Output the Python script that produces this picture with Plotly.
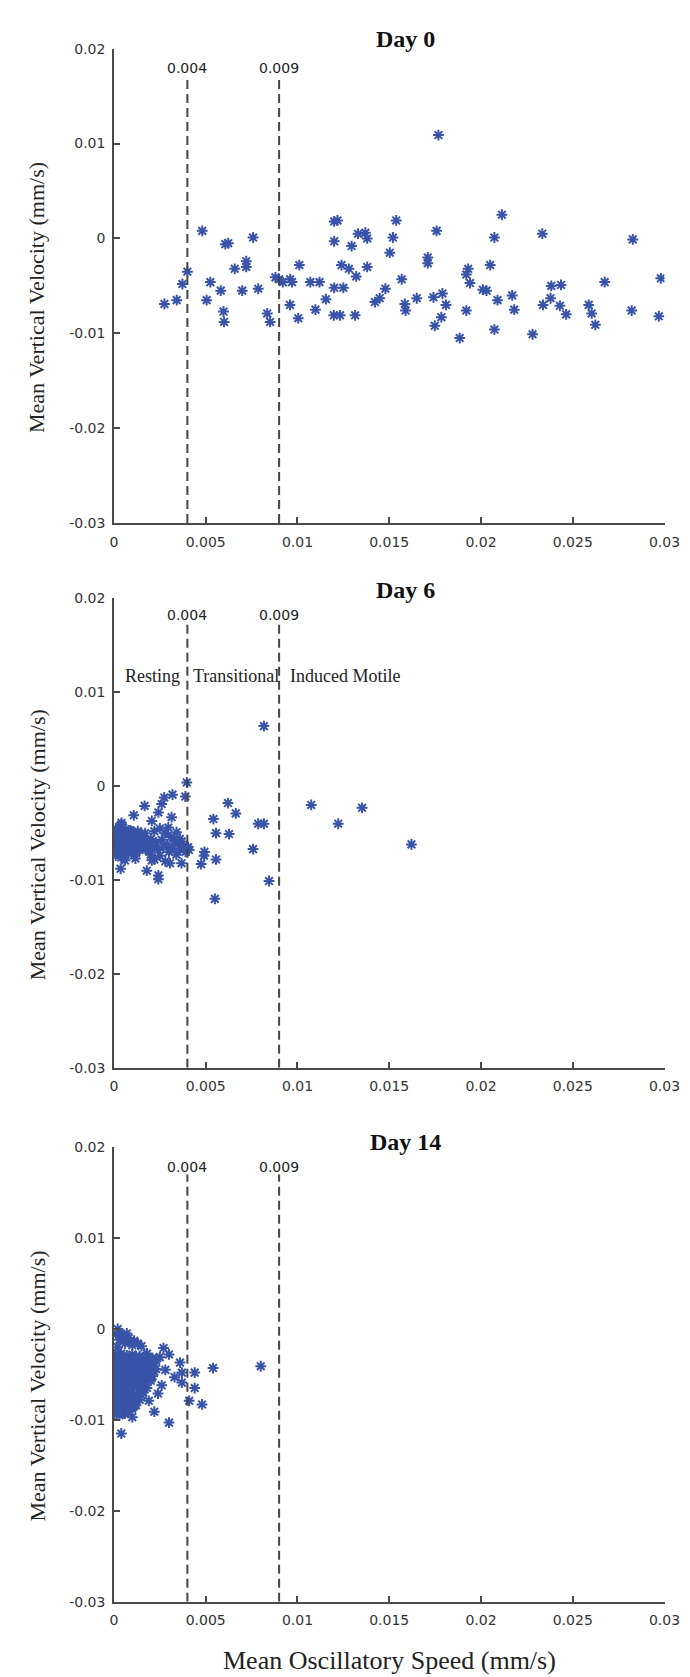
import plotly.graph_objects as go

# ---------------- data ----------------
thresholds = [0.004, 0.009]
threshold_labels = ["0.004", "0.009"]
panel_titles = ["Day 0", "Day 6", "Day 14"]
region_labels = ["Resting", "Transitional", "Induced Motile"]
region_label_x = [0.0005, 0.0042, 0.0095]
x_tickvals = [0, 0.005, 0.01, 0.015, 0.02, 0.025, 0.03]
x_ticktext = ["0", "0.005", "0.01", "0.015", "0.02", "0.025", "0.03"]
y_tickvals = [0.02, 0.01, 0, -0.01, -0.02, -0.03]
y_ticktext = ["0.02", "0.01", "0", "-0.01", "-0.02", "-0.03"]
x_title = "Mean Oscillatory Speed (mm/s)"
y_title = "Mean Vertical Velocity (mm/s)"

day0_x = [0.01768, 0.00481, 0.00607, 0.00623, 0.00758, 0.00721, 0.00721, 0.00658, 0.00525, 0.00373,
          0.0040, 0.00582, 0.00699, 0.00786, 0.0088, 0.0090, 0.0092, 0.0096, 0.0097, 0.0101,
          0.0107, 0.0112, 0.0120, 0.01218, 0.0120, 0.01295, 0.0133, 0.0137, 0.0138, 0.0124,
          0.0128, 0.0132, 0.0138, 0.0120, 0.0125, 0.01503, 0.0152, 0.01538, 0.01568, 0.01479,
          0.0171, 0.0171, 0.01758, 0.0179, 0.02114, 0.02073, 0.0193, 0.0192, 0.0194, 0.0205,
          0.0201, 0.0203, 0.0217, 0.02334, 0.02383, 0.02436, 0.02674, 0.02827, 0.0298,
          0.00275, 0.00342, 0.00505, 0.00597, 0.0060, 0.00835, 0.00851, 0.00959, 0.01004, 0.01098,
          0.01155, 0.01198, 0.01232, 0.01314, 0.01422, 0.01448, 0.01585, 0.01589, 0.0165, 0.01741,
          0.01748, 0.01784, 0.01809, 0.01884, 0.0192, 0.02073, 0.0209, 0.02181, 0.02281, 0.02338,
          0.02379, 0.0243, 0.02464, 0.02587, 0.02603, 0.02623, 0.02821, 0.02969]
day0_y = [0.0109, 0.0008, -0.0006, -0.0005, 0.0001, -0.0024, -0.0030, -0.0032, -0.0046, -0.0048,
          -0.0035, -0.0055, -0.0055, -0.0053, -0.0041, -0.0043, -0.0046, -0.0043, -0.0046, -0.0028,
          -0.0046, -0.0046, 0.0018, 0.0019, -0.0003, -0.0008, 0.0005, 0.0006, 0.0000, -0.0028,
          -0.0032, -0.0040, -0.0030, -0.0052, -0.0052, -0.0015, 0.0001, 0.0019, -0.0043, -0.0053,
          -0.0020, -0.0026, 0.0008, -0.0058, 0.0025, 0.0001, -0.0032, -0.0038, -0.0047, -0.0028,
          -0.0054, -0.0055, -0.0060, 0.0005, -0.0050, -0.0049, -0.0046, -0.0001, -0.0042,
          -0.0069, -0.0065, -0.0065, -0.0077, -0.0088, -0.0079, -0.0088, -0.0070, -0.0084, -0.0075,
          -0.0064, -0.0081, -0.0081, -0.0081, -0.0067, -0.0063, -0.0069, -0.0076, -0.0063, -0.0062,
          -0.0092, -0.0083, -0.0070, -0.0105, -0.0076, -0.0096, -0.0065, -0.0075, -0.0101, -0.0070,
          -0.0063, -0.0071, -0.0080, -0.0070, -0.0079, -0.0091, -0.0076, -0.0082]

day6_x = [0.00817, 0.00397, 0.00389, 0.01075, 0.01352, 0.01222, 0.01621, 0.00621, 0.00664, 0.00542,
          0.00556, 0.00627, 0.00786, 0.00817, 0.00758, 0.00493, 0.00491, 0.00475, 0.00556, 0.00845,
          0.0055, 0.00409, 0.00404,
          0.00319, 0.00274, 0.0026, 0.00167, 0.00108, 0.00242, 0.00206, 0.00314, 0.00041, 0.00296,
          0.00341, 0.00359, 0.00036, 0.00179, 0.00242, 0.00242, 0.00117, 0.00206, 0.00305, 0.00368,
          0.0000, 0.0001, 0.0001, 0.0002, 0.0002, 0.0002, 0.0003, 0.0003, 0.0003, 0.0004,
          0.0004, 0.0004, 0.0004, 0.0005, 0.0005, 0.0006, 0.0006, 0.0006, 0.0007, 0.0007,
          0.0008, 0.0008, 0.0008, 0.0009, 0.0009, 0.0010, 0.0010, 0.0011, 0.0011, 0.0012,
          0.0012, 0.0013, 0.0013, 0.0014, 0.0014, 0.0015, 0.0015, 0.0016, 0.0017, 0.0017,
          0.0018, 0.0019, 0.0020, 0.0020, 0.0021, 0.0022, 0.0022, 0.0023, 0.0024, 0.0025,
          0.0025, 0.0026, 0.0027, 0.0028, 0.0028, 0.0029, 0.0030, 0.0031, 0.0032, 0.0033,
          0.0034, 0.0035, 0.0036, 0.0037, 0.0038, 0.0039, 0.0040,
          0.0000, 0.0000, 0.0001, 0.0001, 0.0002, 0.0003, 0.0003, 0.0004, 0.0005, 0.0005,
          0.0006, 0.0006, 0.0007, 0.0007, 0.0008, 0.0009, 0.0009, 0.0010, 0.0010, 0.0011,
          0.0012, 0.0012, 0.0013, 0.0014, 0.0015, 0.0016, 0.0016]
day6_y = [0.0064, 0.0004, -0.0011, -0.0020, -0.0023, -0.0040, -0.0062, -0.0018, -0.0029, -0.0035,
          -0.0050, -0.0051, -0.0040, -0.0040, -0.0067, -0.0070, -0.0074, -0.0083, -0.0078, -0.0101,
          -0.0120, -0.0068, -0.0065,
          -0.0009, -0.0012, -0.0019, -0.0021, -0.0031, -0.0028, -0.0037, -0.0033, -0.0039, -0.0044,
          -0.0049, -0.0056, -0.0088, -0.0090, -0.0095, -0.0099, -0.0077, -0.0079, -0.0082, -0.0082,
          -0.0060, -0.0055, -0.0066, -0.0050, -0.0062, -0.0072, -0.0045, -0.0058, -0.0069, -0.0041,
          -0.0053, -0.0064, -0.0076, -0.0048, -0.0060, -0.0056, -0.0068, -0.0079, -0.0050, -0.0063,
          -0.0047, -0.0058, -0.0072, -0.0054, -0.0066, -0.0049, -0.0061, -0.0057, -0.0070, -0.0052,
          -0.0064, -0.0048, -0.0060, -0.0055, -0.0068, -0.0051, -0.0062, -0.0058, -0.0066, -0.0050,
          -0.0061, -0.0069, -0.0056, -0.0073, -0.0064, -0.0048, -0.0078, -0.0060, -0.0068, -0.0045,
          -0.0074, -0.0057, -0.0065, -0.0050, -0.0080, -0.0062, -0.0070, -0.0054, -0.0066, -0.0058,
          -0.0073, -0.0061, -0.0067, -0.0059, -0.0064, -0.0070, -0.0066,
          -0.0052, -0.0068, -0.0045, -0.0074, -0.0057, -0.0050, -0.0064, -0.0059, -0.0044, -0.0071,
          -0.0051, -0.0062, -0.0057, -0.0069, -0.0053, -0.0047, -0.0061, -0.0055, -0.0067, -0.0050,
          -0.0058, -0.0071, -0.0054, -0.0062, -0.0057, -0.0053, -0.0065]

day14_x = [0.0002, 0.0003, 0.0005, 0.0008, 0.0011, 0.0013, 0.0003, 0.0006, 0.0009, 0.0002,
           0.0001, 0.0007, 0.0010, 0.0015,
           0.0001, 0.0004, 0.0007, 0.0010, 0.0014, 0.0018,
           0.0000, 0.0003, 0.0006, 0.0009, 0.0012, 0.0016, 0.0020, 0.0023,
           0.0001, 0.0004, 0.0008, 0.0011, 0.0014, 0.0017, 0.0021,
           0.0000, 0.0003, 0.0006, 0.0010, 0.0013, 0.0016, 0.0019, 0.0022,
           0.0001, 0.0005, 0.0008, 0.0011, 0.0015, 0.0018, 0.0021,
           0.0000, 0.0003, 0.0007, 0.0010, 0.0013, 0.0017, 0.0020,
           0.0001, 0.0004, 0.0008, 0.0011, 0.0014, 0.0018,
           0.0000, 0.0003, 0.0006, 0.0009, 0.0013, 0.0016,
           0.0001, 0.0004, 0.0007, 0.0011, 0.0014,
           0.0000, 0.0003, 0.0006, 0.0009, 0.0012,
           0.0001, 0.0004, 0.0007, 0.0010,
           0.0000, 0.0003, 0.0006,
           0.0000, 0.0005, 0.0012, 0.0016, 0.0021,
           0.0002, 0.0007, 0.0014, 0.0018, 0.0022,
           0.0002, 0.0006, 0.0012, 0.0020, 0.0023,
           0.0002, 0.0007, 0.0012, 0.0017, 0.0020,
           0.0002, 0.0006, 0.0013, 0.0016, 0.0020,
           0.0002, 0.0006, 0.0012, 0.0016,
           0.0002, 0.0006, 0.0010, 0.0015,
           0.0002, 0.0005, 0.0011, 0.0015,
           0.0002, 0.0006, 0.0009, 0.0012,
           0.0002, 0.0005, 0.0008, 0.0011,
           0.0002, 0.0005, 0.0008,
           0.0025, 0.0027, 0.0030, 0.0036, 0.0037, 0.0037, 0.0033, 0.0028, 0.0026, 0.0024,
           0.0019, 0.0022, 0.0030, 0.0004, 0.0010, 0.0044, 0.0054, 0.0080, 0.0044, 0.0041, 0.0048]
day14_y = [0.0000, -0.0004, -0.0008, -0.0010, -0.0013, -0.0016, -0.0012, -0.0016, -0.0014, -0.0020,
           -0.0006, -0.0005, -0.0018, -0.0019,
           -0.0028, -0.0027, -0.0029, -0.0028, -0.0030, -0.0027,
           -0.0034, -0.0035, -0.0033, -0.0034, -0.0036, -0.0034, -0.0033, -0.0035,
           -0.0040, -0.0041, -0.0039, -0.0040, -0.0042, -0.0040, -0.0041,
           -0.0046, -0.0047, -0.0045, -0.0046, -0.0048, -0.0046, -0.0045, -0.0047,
           -0.0052, -0.0051, -0.0053, -0.0052, -0.0051, -0.0053, -0.0052,
           -0.0058, -0.0059, -0.0057, -0.0058, -0.0060, -0.0058, -0.0057,
           -0.0064, -0.0063, -0.0065, -0.0064, -0.0063, -0.0065,
           -0.0070, -0.0071, -0.0069, -0.0070, -0.0072, -0.0070,
           -0.0076, -0.0075, -0.0077, -0.0076, -0.0078,
           -0.0082, -0.0083, -0.0081, -0.0082, -0.0084,
           -0.0088, -0.0089, -0.0087, -0.0088,
           -0.0094, -0.0095, -0.0093,
           -0.0031, -0.0032, -0.0030, -0.0031, -0.0032,
           -0.0037, -0.0038, -0.0036, -0.0037, -0.0038,
           -0.0043, -0.0044, -0.0042, -0.0043, -0.0044,
           -0.0049, -0.0050, -0.0048, -0.0049, -0.0050,
           -0.0055, -0.0056, -0.0054, -0.0055, -0.0056,
           -0.0061, -0.0062, -0.0060, -0.0061,
           -0.0067, -0.0068, -0.0066, -0.0067,
           -0.0073, -0.0074, -0.0072, -0.0073,
           -0.0079, -0.0080, -0.0078, -0.0079,
           -0.0085, -0.0086, -0.0084, -0.0085,
           -0.0091, -0.0092, -0.0090,
           -0.0031, -0.0021, -0.0028, -0.0037, -0.0048, -0.0059, -0.0053, -0.0045, -0.0062, -0.0071,
           -0.0079, -0.0091, -0.0103, -0.0115, -0.0097, -0.0048, -0.0043, -0.0041, -0.0065, -0.0079, -0.0083]

panels_x = [day0_x, day6_x, day14_x]
panels_y = [day0_y, day6_y, day14_y]

# ---------------- layout geometry (pixels) ----------------
W, H = 690, 1677
X_LEFT, X_RIGHT = 105, 672
PANEL_TOPS = [33, 588, 1142]
PANEL_BOTTOMS = [512, 1062, 1601]
TITLE_Y = [23, 580, 1137]
TITLE_X = 405
YTITLE_OFFSET = 12
THRESH_LABEL_Y = [0.0180, 0.0182, 0.0178]
THRESH_LINE_TOP = [0.0172, 0.0175, 0.0170]

def px_x(p):
    return p / W

def px_y(p):
    return 1 - p / H

MARKER_COLOR = "#3853a8"
AXIS_COLOR = "#4a4a4a"
SANS = "DejaVu Sans, Verdana, sans-serif"
TICK_FONT = dict(family=SANS, size=14, color="#333333")
SERIF = "Liberation Serif, Times New Roman, serif"

fig = go.Figure()
layout = dict(
    width=W, height=H,
    margin=dict(l=0, r=0, t=0, b=0),
    paper_bgcolor="white", plot_bgcolor="white",
    showlegend=False,
)
annotations = []
shapes = []

for i in range(3):
    suffix = "" if i == 0 else str(i + 1)
    xa = "x" + suffix
    ya = "y" + suffix
    fig.add_trace(go.Scatter(
        x=panels_x[i], y=panels_y[i], mode="markers",
        xaxis=xa, yaxis=ya,
        marker=dict(symbol="asterisk-open", size=9, color=MARKER_COLOR,
                    line=dict(color=MARKER_COLOR, width=2)),
        hoverinfo="x+y",
    ))
    layout["xaxis" + suffix] = dict(
        domain=[px_x(X_LEFT), px_x(X_RIGHT)], range=[0, 0.03], anchor=ya,
        showline=True, linecolor=AXIS_COLOR, linewidth=1.5, mirror=False,
        showgrid=False, zeroline=False,
        ticks="inside", ticklen=6, tickwidth=1.5, tickcolor=AXIS_COLOR,
        tickvals=x_tickvals, ticktext=x_ticktext, tickfont=TICK_FONT,
        ticklabelstandoff=5,
    )
    layout["yaxis" + suffix] = dict(
        domain=[px_y(PANEL_BOTTOMS[i]), px_y(PANEL_TOPS[i])], range=[-0.03, 0.02], anchor=xa,
        showline=True, linecolor=AXIS_COLOR, linewidth=1.5, mirror=False,
        showgrid=False, zeroline=False,
        ticks="inside", ticklen=6, tickwidth=1.5, tickcolor=AXIS_COLOR,
        tickvals=y_tickvals, ticktext=y_ticktext, tickfont=TICK_FONT,
        ticklabelstandoff=4,
    )
    # threshold lines and labels
    for t, lab in zip(thresholds, threshold_labels):
        shapes.append(dict(type="line", xref=xa, yref=ya, x0=t, x1=t, y0=-0.03, y1=THRESH_LINE_TOP[i],
                           line=dict(color="#444444", width=2, dash="9px,5px")))
        annotations.append(dict(xref=xa, yref=ya, x=t, y=THRESH_LABEL_Y[i], text=lab, showarrow=False,
                                font=dict(family=SANS, size=14, color="#222222"),
                                xanchor="center", yanchor="middle"))
    # panel title
    annotations.append(dict(xref="paper", yref="paper", x=px_x(TITLE_X), y=px_y(TITLE_Y[i]),
                            text="<b>" + panel_titles[i] + "</b>", showarrow=False,
                            font=dict(family=SERIF, size=24, color="#111111"),
                            xanchor="center", yanchor="middle"))
    # y axis title
    annotations.append(dict(xref="paper", yref="paper", x=px_x(26),
                            y=px_y((PANEL_TOPS[i] + PANEL_BOTTOMS[i]) / 2 + YTITLE_OFFSET),
                            text=y_title, textangle=-90, showarrow=False,
                            font=dict(family=SERIF, size=22, color="#222222"),
                            xanchor="center", yanchor="middle"))

# region labels on Day 6
for lab, lx in zip(region_labels, region_label_x):
    annotations.append(dict(xref="x2", yref="y2", x=lx, y=0.0117, text=lab, showarrow=False,
                            font=dict(family=SERIF, size=18, color="#222222"),
                            xanchor="left", yanchor="middle"))

# x axis title
annotations.append(dict(xref="paper", yref="paper", x=px_x((X_LEFT + X_RIGHT) / 2), y=px_y(1660),
                        text=x_title, showarrow=False,
                        font=dict(family=SERIF, size=26, color="#222222"),
                        xanchor="center", yanchor="middle"))

layout["annotations"] = annotations
layout["shapes"] = shapes
fig.update_layout(**layout)
fig.write_html("out.html")
